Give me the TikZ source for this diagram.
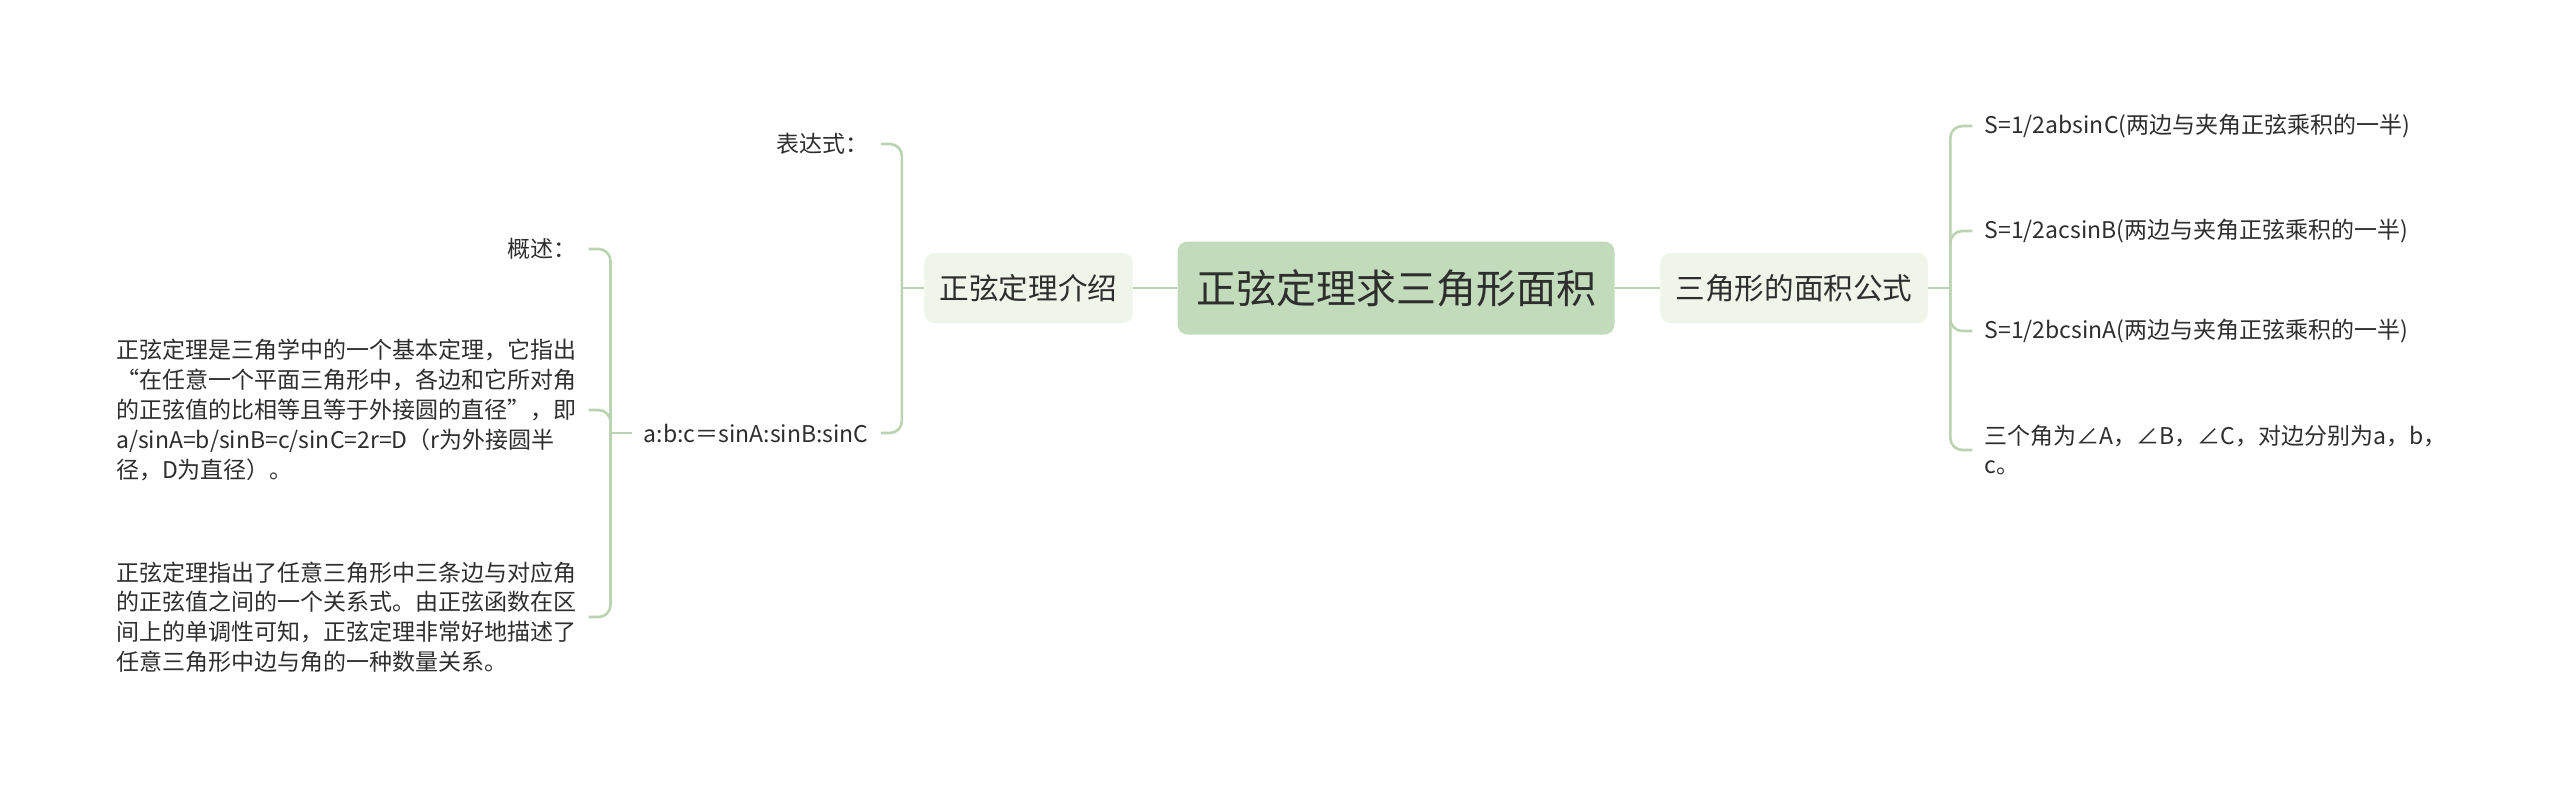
\documentclass[tikz,border=0pt]{standalone}
\usepackage{fontspec}
\setmainfont{Noto Sans CJK SC}
\usetikzlibrary{positioning}
\definecolor{rootfill}{HTML}{C2DBBB}
\definecolor{subfill}{HTML}{EFF5E8}
\definecolor{linkgreen}{HTML}{BAD4B1}
\definecolor{txt}{HTML}{2E2E2E}

\begin{document}
\begin{tikzpicture}[node distance=22pt]
\tikzstyle{root} = [rectangle, rounded corners=5pt, fill=rootfill, minimum width=218.5pt, minimum height=46.5pt, text=txt, font=\fontsize{20pt}{24pt}\selectfont]
\tikzstyle{sub} = [rectangle, rounded corners=5pt, fill=subfill, inner xsep=7.7pt, minimum height=35pt, text=txt, font=\fontsize{14.8pt}{18pt}\selectfont]
\tikzstyle{leaf} = [inner xsep=6pt, inner ysep=2pt, align=left, text=txt, font=\fontsize{11.5pt}{14.9pt}\selectfont]
\tikzstyle{link} = [draw=linkgreen, line width=1.3pt, rounded corners=6pt]
\useasboundingbox (0,0) rectangle (1280pt,-394.5pt);
\node (Root) [root] at (698pt,-144pt) {正弦定理求三角形面积};
\node (Intro) [sub, left=22pt of Root] {正弦定理介绍};
\node (Area) [sub, right=22.5pt of Root] {三角形的面积公式};
\node (Expr) [leaf, left=21.5pt of Intro, yshift=72pt] {表达式：};
\node (Ratio) [leaf, left=21.5pt of Intro, yshift=-72.5pt] {a:b:c＝sinA:sinB:sinC};
\node (Over) [leaf, left=21.5pt of Ratio, yshift=92pt] {概述：};
\node (Def) [leaf, left=21.5pt of Ratio, yshift=11.5pt] {正弦定理是三角学中的一个基本定理，它指出\\“在任意一个平面三角形中，各边和它所对角\\的正弦值的比相等且等于外接圆的直径”，即\\a/sinA=b/sinB=c/sinC=2r=D（r为外接圆半\\径，D为直径）。};
\node (Mono) [leaf, left=21.5pt of Ratio, yshift=-92pt] {正弦定理指出了任意三角形中三条边与对应角\\的正弦值之间的一个关系式。由正弦函数在区\\间上的单调性可知，正弦定理非常好地描述了\\任意三角形中边与角的一种数量关系。};
\node (SinC) [leaf, right=22pt of Area, yshift=81pt] {S=1/2absinC(两边与夹角正弦乘积的一半)};
\node (SinB) [leaf, right=22pt of Area, yshift=28.5pt] {S=1/2acsinB(两边与夹角正弦乘积的一半)};
\node (SinA) [leaf, right=22pt of Area, yshift=-21.5pt] {S=1/2bcsinA(两边与夹角正弦乘积的一半)};
\node (Angle) [leaf, right=22pt of Area, yshift=-81pt] {三个角为∠A，∠B，∠C，对边分别为a，b，\\c。};
\coordinate (IntroJ) at ([xshift=-11pt]Intro.west);
\coordinate (RatioJ) at ([xshift=-10.5pt]Ratio.west);
\coordinate (AreaJ) at ([xshift=11pt]Area.east);
\draw[link] (Root) -- (Intro);
\draw[link] (Root) -- (Area);
\draw[link] (Intro.west) -- (IntroJ);
\draw[link] (IntroJ) |- (Expr.east);
\draw[link] (IntroJ) |- (Ratio.east);
\draw[link] (Ratio.west) -- (RatioJ);
\draw[link] (RatioJ) |- (Over.east);
\draw[link] (RatioJ) |- (Def.east);
\draw[link] (RatioJ) |- (Mono.east);
\draw[link] (Area.east) -- (AreaJ);
\draw[link] (AreaJ) |- (SinC.west);
\draw[link] (AreaJ) |- (SinB.west);
\draw[link] (AreaJ) |- (SinA.west);
\draw[link] (AreaJ) |- (Angle.west);

\end{tikzpicture}
\end{document}
